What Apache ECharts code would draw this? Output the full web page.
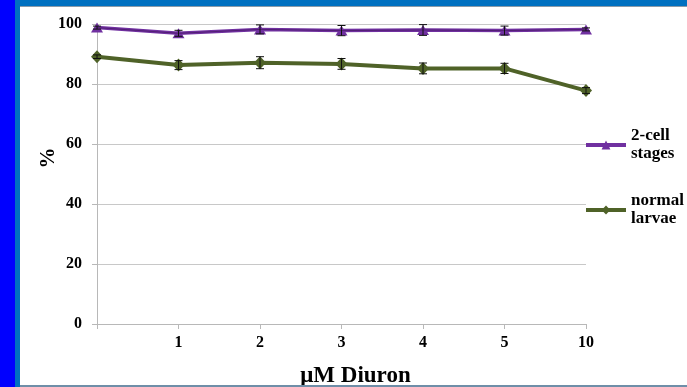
<!DOCTYPE html>
<html>
<head>
<meta charset="utf-8">
<script src="https://cdn.jsdelivr.net/npm/echarts@6/dist/echarts.min.js"></script>
<style>
html,body{margin:0;padding:0;background:#fff;}
#c{width:687px;height:387px;}
</style>
</head>
<body>
<div id="c"></div>
<script>
// Data
var categories = ['', '1', '2', '3', '4', '5', '10'];
var cellStages = [98.8, 96.9, 98.2, 97.8, 98.0, 97.8, 98.2];
var cellStagesErr = [0.5, 1.0, 1.5, 1.7, 1.8, 1.5, 0.5];
var normalLarvae = [89.1, 86.3, 87.1, 86.7, 85.2, 85.2, 77.8];
var normalLarvaeErr = [0.6, 1.5, 2.0, 1.8, 1.8, 1.7, 1.0];
var yTicks = [0, 20, 40, 60, 80, 100];
var seriesNames = ['2-cell stages', 'normal larvae'];
var legendLabels = ['2-cell\nstages', 'normal\nlarvae'];

function errData(vals, errs) {
  return vals.map(function (v, i) { return [i, v - errs[i], v + errs[i]]; });
}
function errRender(params, api) {
  var lo = api.coord([api.value(0), api.value(1)]);
  var hi = api.coord([api.value(0), api.value(2)]);
  var w = 4;
  var st = { stroke: '#111', lineWidth: 1 };
  return {
    type: 'group',
    children: [
      { type: 'line', shape: { x1: lo[0], y1: lo[1], x2: hi[0], y2: hi[1] }, style: st },
      { type: 'line', shape: { x1: lo[0] - w, y1: lo[1], x2: lo[0] + w, y2: lo[1] }, style: st },
      { type: 'line', shape: { x1: hi[0] - w, y1: hi[1], x2: hi[0] + w, y2: hi[1] }, style: st }
    ]
  };
}

var font = '"Liberation Serif", "Times New Roman", serif';
var purple = '#7030A0';
var green = '#4F6228';

var chart = echarts.init(document.getElementById('c'), null, { renderer: 'canvas' });
var legendText = {
  fontFamily: font, fontWeight: 'bold', fontSize: 17, color: '#000',
  lineHeight: 18, padding: [18, 0, 0, 0]
};
chart.setOption({
  backgroundColor: '#fff',
  animation: false,
  graphic: [
    { type: 'rect', shape: { x: 15, y: 0, width: 672, height: 6 }, style: { fill: '#0070C0' }, z: 100 },
    { type: 'rect', shape: { x: 15, y: 6, width: 672, height: 1 }, style: { fill: '#8a9aa8' }, z: 100 },
    { type: 'rect', shape: { x: 15, y: 385, width: 672, height: 2 }, style: { fill: '#6f8ea8' }, z: 100 },
    { type: 'rect', shape: { x: 15, y: 0, width: 5, height: 387 }, style: { fill: '#0070C0' }, z: 100 },
    { type: 'rect', shape: { x: 0, y: 0, width: 15, height: 387 }, style: { fill: '#0000FF' }, z: 101 }
  ],
  legend: [
    {
      data: [seriesNames[0]], left: 584, top: 118, padding: 0,
      itemWidth: 40, itemHeight: 11, itemGap: 3,
      lineStyle: { width: 4 },
      formatter: function () { return legendLabels[0]; },
      textStyle: legendText
    },
    {
      data: [seriesNames[1]], left: 584, top: 183, padding: 0,
      itemWidth: 40, itemHeight: 11, itemGap: 3,
      lineStyle: { width: 4 },
      formatter: function () { return legendLabels[1]; },
      textStyle: legendText
    }
  ],
  grid: { left: 97, right: 101, top: 24, bottom: 63, containLabel: false, outerBoundsMode: 'none' },
  xAxis: {
    type: 'category',
    data: categories,
    boundaryGap: false,
    name: 'μM Diuron',
    nameLocation: 'middle',
    nameGap: 41,
    nameMoveOverlap: false,
    nameTextStyle: { fontFamily: font, fontWeight: 'bold', fontSize: 23, color: '#000', padding: [0, 0, 0, 28] },
    axisLine: { lineStyle: { color: '#b8b8b8', width: 1 } },
    axisTick: { show: true, length: 5, lineStyle: { color: '#b8b8b8' } },
    axisLabel: { fontFamily: font, fontWeight: 'bold', fontSize: 16, color: '#000', margin: 11 },
    splitLine: { show: false }
  },
  yAxis: {
    type: 'value',
    min: yTicks[0], max: yTicks[yTicks.length - 1], interval: yTicks[1] - yTicks[0],
    name: '%',
    nameLocation: 'middle',
    nameGap: 38,
    nameRotate: 90,
    nameMoveOverlap: false,
    nameTextStyle: { fontFamily: font, fontWeight: 'bold', fontSize: 21, color: '#000', padding: [0, 0, 0, 32] },
    axisLine: { show: true, lineStyle: { color: '#b8b8b8', width: 1 } },
    axisTick: { show: true, length: 5, lineStyle: { color: '#b8b8b8' } },
    axisLabel: { fontFamily: font, fontWeight: 'bold', fontSize: 16, color: '#000', margin: 15 },
    splitLine: { show: true, lineStyle: { color: '#c8c8c8', width: 1 } }
  },
  series: [
    {
      name: seriesNames[0], type: 'line', data: cellStages,
      symbol: 'triangle', symbolSize: [12, 10],
      itemStyle: { color: purple },
      lineStyle: { color: purple, width: 3.5 },
      z: 3
    },
    {
      name: seriesNames[1], type: 'line', data: normalLarvae,
      symbol: 'diamond', symbolSize: [12, 13],
      itemStyle: { color: green },
      lineStyle: { color: green, width: 4 },
      z: 3
    },
    {
      name: 'cellOutline', type: 'line', data: cellStages, symbol: 'none',
      lineStyle: { color: '#4a1a68', width: 0.8 }, z: 4, silent: true
    },
    {
      name: 'cellErr', type: 'custom', renderItem: errRender,
      data: errData(cellStages, cellStagesErr), z: 5, silent: true
    },
    {
      name: 'larvaeErr', type: 'custom', renderItem: errRender,
      data: errData(normalLarvae, normalLarvaeErr), z: 5, silent: true
    }
  ]
});
</script>
</body>
</html>
